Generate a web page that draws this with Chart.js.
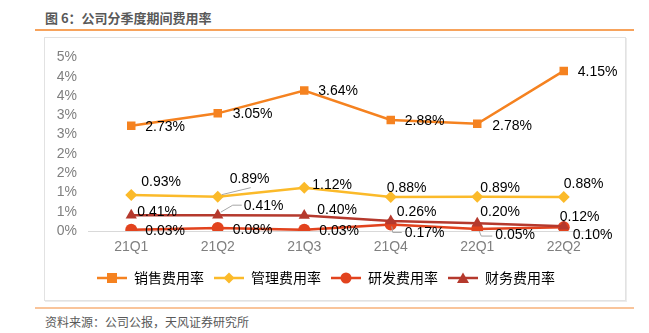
<!DOCTYPE html>
<html><head><meta charset="utf-8">
<script src="https://cdn.jsdelivr.net/npm/chart.js@4/dist/chart.umd.min.js"></script>
<style>
html,body{margin:0;padding:0;background:#fff;width:649px;height:333px;overflow:hidden;}
#title{position:absolute;left:45px;top:8px;font:bold 13px "Noto Sans CJK SC","Liberation Sans",sans-serif;color:#595959;}
#topline{position:absolute;left:35px;top:29px;width:599px;height:2px;background:#F7A35C;}
#box{position:absolute;left:44px;top:37px;width:580px;height:262px;border:1px solid #e2e2e2;box-shadow:1px 1px 0 #ececec;}
#wrap{position:absolute;left:45px;top:38px;width:579px;height:261px;}
#botline{position:absolute;left:35px;top:307px;width:599px;height:2px;background:#F9C49A;}
#foot{position:absolute;left:45px;top:313px;font:12px "Noto Sans CJK SC",sans-serif;color:#595959;}
</style></head>
<body>
<div id="title">图 6：公司分季度期间费用率</div>
<div id="topline"></div>
<div id="box"></div>
<div id="wrap"><canvas id="c" width="579" height="261"></canvas></div>
<div id="botline"></div>
<div id="foot">资料来源：公司公报，天风证券研究所</div>
<script>
const categories = ['21Q1','21Q2','21Q3','21Q4','22Q1','22Q2'];
const seriesNames = ['销售费用率','管理费用率','研发费用率','财务费用率'];
const salesRate = [2.73, 3.05, 3.64, 2.88, 2.78, 4.15];
const adminRate = [0.93, 0.89, 1.12, 0.88, 0.89, 0.88];
const rdRate = [0.03, 0.08, 0.03, 0.17, 0.05, 0.10];
const financeRate = [0.41, 0.41, 0.40, 0.26, 0.20, 0.12];
const yTicks = [0, 0.5, 1, 1.5, 2, 2.5, 3, 3.5, 4, 4.5];

const colors = ['#F58220', '#FBBA2A', '#E2431E', '#B5392D'];
const styles = ['rect', 'rectRot', 'circle', 'triangle'];
const radii = [6, 6, 6, 6.5];

// label offsets (dx to text left, dy to text middle) relative to each point
const labelOffsets = [
  [[14,1],[15,1],[14,1],[14,1],[15,2],[14,1]],
  [[10,-13],[12,-18],[8,-3],[-4,-9],[3,-9],[0,-13]],
  [[14,1],[15,2],[15,1],[14,9],[18,6],[9,8]],
  [[6,-3],[26,-9],[13,-5],[6,-9],[3,-11],[-4,-9]]
];
// leader lines: [series, point, list of [dx,dy] vertices relative to point]
const leaders = [
  [1, 1, [[4,-2],[33,-9]]],
  [3, 1, [[3,-3],[15,-10],[24,-10]]],
  [2, 3, [[1,2],[2,8],[11,8]]],
  [2, 4, [[2,2],[4,7],[15,7]]]
];

function legendImg(i){
  const cv = document.createElement('canvas');
  cv.width = 30; cv.height = 14;
  const g = cv.getContext('2d');
  g.strokeStyle = colors[i]; g.fillStyle = colors[i]; g.lineWidth = 2.5;
  g.beginPath(); g.moveTo(0,7); g.lineTo(30,7); g.stroke();
  g.beginPath();
  if (i===0){ g.rect(10,2,10,10); }
  else if (i===1){ g.moveTo(15,1.5); g.lineTo(20.5,7); g.lineTo(15,12.5); g.lineTo(9.5,7); g.closePath(); }
  else if (i===2){ g.arc(15,7,5.5,0,Math.PI*2); }
  else { g.moveTo(15,1.5); g.lineTo(21,12); g.lineTo(9,12); g.closePath(); }
  g.fill();
  return cv;
}
const legendImgs = [0,1,2,3].map(legendImg);

const dataArrays = [salesRate, adminRate, rdRate, financeRate];
const datasets = dataArrays.map((d,i)=>({
  label: seriesNames[i],
  data: d,
  borderColor: colors[i],
  backgroundColor: colors[i],
  borderWidth: 2.5,
  pointStyle: styles[i],
  pointRadius: radii[i],
  pointHoverRadius: radii[i],
  pointBorderWidth: 0,
  tension: 0,
  order: 4 - i
}));

const labelPlugin = {
  id: 'vlabels',
  afterDatasetsDraw(chart){
    const ctx = chart.ctx;
    ctx.save();
    ctx.strokeStyle = '#A6A6A6'; ctx.lineWidth = 1;
    leaders.forEach(([s,p,pts])=>{
      const el = chart.getDatasetMeta(s).data[p];
      ctx.beginPath();
      pts.forEach(([dx,dy],k)=>{ if(k===0) ctx.moveTo(el.x+dx, el.y+dy); else ctx.lineTo(el.x+dx, el.y+dy); });
      ctx.stroke();
    });
    ctx.font = '14px "Liberation Sans", Arial, sans-serif';
    ctx.fillStyle = '#000';
    ctx.textAlign = 'left'; ctx.textBaseline = 'middle';
    chart.data.datasets.forEach((ds,i)=>{
      chart.getDatasetMeta(i).data.forEach((el,j)=>{
        const [dx,dy] = labelOffsets[i][j];
        ctx.fillText(ds.data[j].toFixed(2)+'%', el.x+dx, el.y+dy);
      });
    });
    ctx.restore();
  }
};

new Chart(document.getElementById('c'), {
  type: 'line',
  data: { labels: categories, datasets },
  options: {
    responsive: false,
    animation: false,
    events: [],
    layout: { padding: { top: 17, right: 17, left: 0, bottom: 4 } },
    scales: {
      x: {
        offset: true,
        grid: { display: false, drawTicks: false },
        border: { display: true, color: '#D9D9D9', width: 1 },
        ticks: { color: '#7F7F7F', font: { size: 14, family: '"Liberation Sans", Arial, sans-serif' }, padding: 8 },
        afterFit: s => { s.height = 30; }
      },
      y: {
        min: 0, max: 4.5,
        afterBuildTicks: s => { s.ticks = yTicks.map(v=>({value:v})); },
        grid: { display: false, drawTicks: false },
        border: { display: false },
        ticks: { color: '#7F7F7F', font: { size: 14, family: '"Liberation Sans", Arial, sans-serif' }, padding: 11,
                 autoSkip: false, callback: v => Math.round(v) + '%' },
        afterFit: s => { s.width = 43; }
      }
    },
    plugins: {
      tooltip: { enabled: false },
      legend: {
        position: 'bottom',
        labels: {
          usePointStyle: true,
          pointStyleWidth: 30,
          boxHeight: 14,
          padding: 10,
          color: '#595959',
          font: { size: 14, family: '"Noto Sans CJK SC", sans-serif' },
          generateLabels: chart => chart.data.datasets.map((ds,i)=>({
            text: ds.label, pointStyle: legendImgs[i], fillStyle: colors[i],
            strokeStyle: colors[i], lineWidth: 0, hidden: false, datasetIndex: i
          }))
        }
      }
    }
  },
  plugins: [labelPlugin]
});
</script>
</body></html>
